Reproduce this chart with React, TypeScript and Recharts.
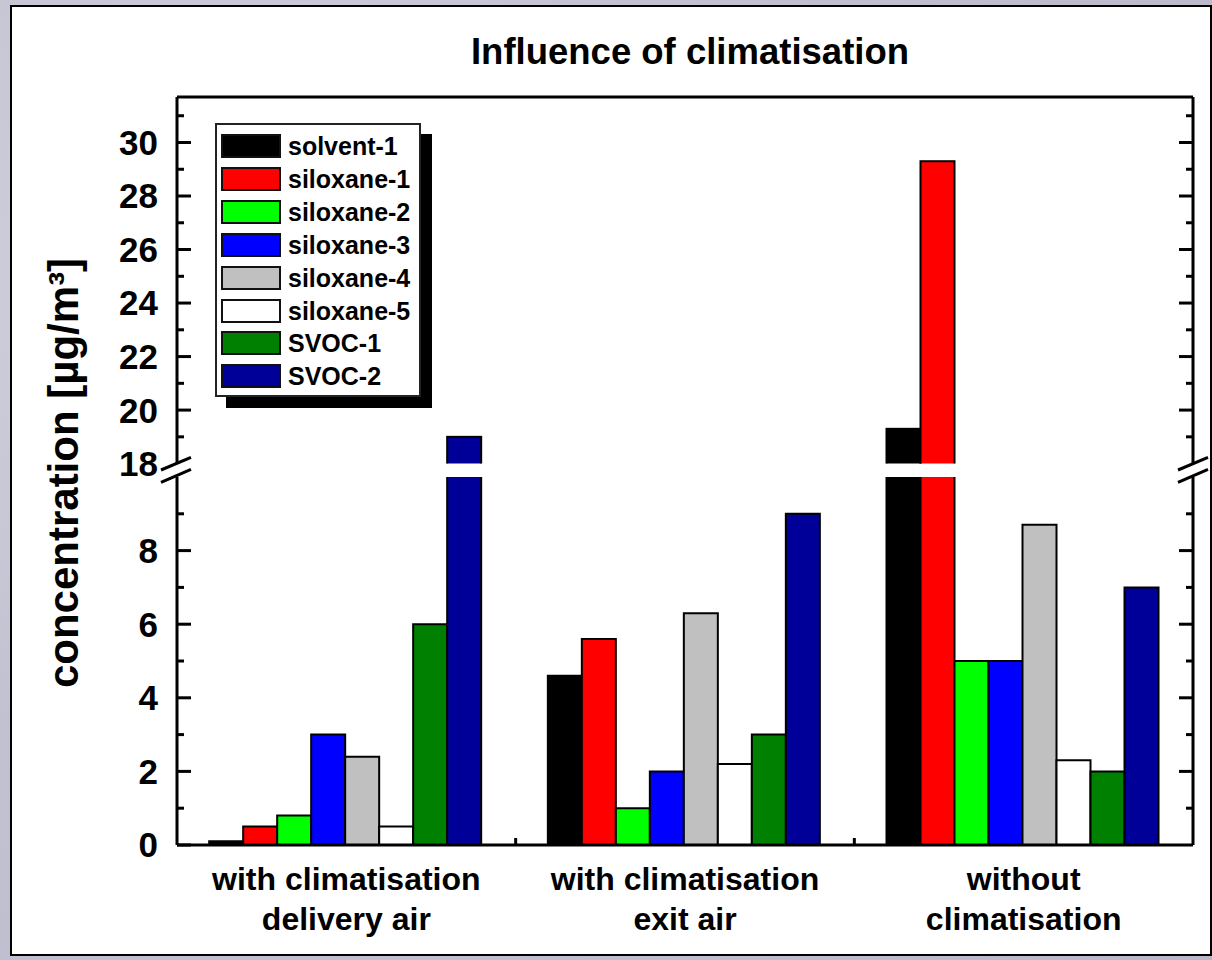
import React from 'react';
import { BarChart, Bar, XAxis, YAxis } from 'recharts';

const FONT = '"Liberation Sans", Arial, Helvetica, sans-serif';

// ---------- data ----------
const categories = [
  ['with climatisation', 'delivery air'],
  ['with climatisation', 'exit air'],
  ['without', 'climatisation'],
];
const seriesNames = ['solvent-1', 'siloxane-1', 'siloxane-2', 'siloxane-3', 'siloxane-4', 'siloxane-5', 'SVOC-1', 'SVOC-2'];
const seriesColors = ['#000000', '#ff0000', '#00ff00', '#0000ff', '#c0c0c0', '#ffffff', '#008000', '#000099'];

const solvent1 = [0.1, 4.6, 19.3];
const siloxane1 = [0.5, 5.6, 29.3];
const siloxane2 = [0.8, 1.0, 5.0];
const siloxane3 = [3.0, 2.0, 5.0];
const siloxane4 = [2.4, 6.3, 8.7];
const siloxane5 = [0.5, 2.2, 2.3];
const svoc1 = [6.0, 3.0, 2.0];
const svoc2 = [19.0, 9.0, 7.0];
const seriesValues = [solvent1, siloxane1, siloxane2, siloxane3, siloxane4, siloxane5, svoc1, svoc2];

const lowerDomain = [0, 10];
const upperDomain = [18, 31.7];
const lowerTicks = [0, 1, 2, 3, 4, 5, 6, 7, 8, 9];
const lowerTickLabels = [0, 2, 4, 6, 8];
const upperTicks = [18, 19, 20, 21, 22, 23, 24, 25, 26, 27, 28, 29, 30, 31];
const upperTickLabels = [18, 20, 22, 24, 26, 28, 30];

const title = 'Influence of climatisation';
const yLabel = 'concentration [µg/m³]';

// ---------- derived tables ----------
const keys = seriesNames.map((_, i) => `s${i}`);
const lowerData = categories.map((lines, ci) => {
  const row: any = { name: lines.join(' '), lines };
  seriesValues.forEach((vals, si) => { row[keys[si]] = vals[ci]; });
  return row;
});
const upperData = categories.map((lines, ci) => {
  const row: any = { name: lines.join(' '), lines };
  seriesValues.forEach((vals, si) => {
    const v = vals[ci];
    row[keys[si]] = v >= upperDomain[0] ? v : null;
  });
  return row;
});

// ---------- custom pieces ----------
const makeLeftTick = (labels: number[], skipLine: number[]) => (props: any) => {
  const { x, y, payload } = props;
  const v = payload.value;
  const major = labels.includes(v);
  const len = major ? 14 : 7;
  return (
    <g>
      {!skipLine.includes(v) && <line x1={x} x2={x + len} y1={y} y2={y} stroke="#000" strokeWidth={3} />}
      {major && (
        <text x={x - 19} y={y} dy="0.355em" textAnchor="end" fontFamily={FONT} fontWeight="bold" fontSize={35} fill="#000">
          {v}
        </text>
      )}
    </g>
  );
};

const makeRightTick = (labels: number[], skipLine: number[]) => (props: any) => {
  const { x, y, payload } = props;
  const v = payload.value;
  if (skipLine.includes(v)) return <g />;
  const len = labels.includes(v) ? 14 : 7;
  return <line x1={x} x2={x - len} y1={y} y2={y} stroke="#000" strokeWidth={3} />;
};

const CategoryTick = (props: any) => {
  const { x, y, payload, index, visibleTicksCount, width } = props;
  const idx = payload.index ?? index ?? 0;
  const lines = categories[idx] || String(payload.value).split(' ');
  const band = Number(width) / (Number(visibleTicksCount) || categories.length);
  const showBoundary = idx > 0 && Number.isFinite(band);
  return (
    <g>
      {showBoundary && (
        <line x1={x - band / 2} x2={x - band / 2} y1={y} y2={y - 7} stroke="#000" strokeWidth={3} />
      )}
      {lines.map((t: string, i: number) => (
        <text key={i} x={x} y={y + 45 + i * 40} textAnchor="middle" fontFamily={FONT} fontWeight="bold" fontSize={32} fill="#000">
          {t}
        </text>
      ))}
    </g>
  );
};

const makeUpperShape = (key: string) => (p: any) => {
  if (!p || !p.payload || p.payload[key] == null || !(p.height > 0)) return <g />;
  return <rect x={p.x} y={p.y} width={p.width} height={p.height + 8} fill={p.fill} stroke="#000" strokeWidth={2} />;
};

const axisLineStyle = { stroke: '#000', strokeWidth: 3 };

const Legend = () => (
  <div
    style={{
      position: 'absolute', left: 215, top: 123, width: 206, height: 274, boxSizing: 'border-box',
      border: '2px solid #222', background: '#fff', boxShadow: '11px 11px 0 0 #000',
    }}
  >
    {seriesNames.map((n, i) => (
      <div key={n} style={{ position: 'absolute', left: 4, top: 9 + i * 32.9, height: 24, display: 'flex', alignItems: 'center' }}>
        <div style={{ width: 60, height: 24, boxSizing: 'border-box', border: '2px solid #111', background: seriesColors[i] }} />
        <div style={{ marginLeft: 7, fontFamily: FONT, fontWeight: 'bold', fontSize: 25, lineHeight: '24px', color: '#000', whiteSpace: 'nowrap' }}>
          {n}
        </div>
      </div>
    ))}
  </div>
);

export default function App() {
  return (
    <div style={{ position: 'absolute', left: 0, top: 0, width: 1212, height: 960, overflow: 'hidden',
      background: 'radial-gradient(circle at 20% 30%, #d4d4e0 0%, #c2c2d2 40%, #b8b8ca 100%)' }}>
      <div style={{ position: 'absolute', left: 10, top: 5, width: 1202, height: 951, boxSizing: 'border-box',
        border: '2px solid #000', background: '#fff' }} />

      {/* lower segment 0..10 */}
      <div style={{ position: 'absolute', left: 0, top: 0 }}>
        <BarChart width={1212} height={960} data={lowerData} barGap={0} barCategoryGap="9.5%"
          margin={{ top: 477, right: 18, bottom: 114, left: 176 }}>
          {keys.map((k, i) => (
            <Bar key={k} dataKey={k} fill={seriesColors[i]} stroke="#000" strokeWidth={2} isAnimationActive={false} />
          ))}
          <XAxis dataKey="name" type="category" height={1} tickSize={0} tickMargin={0} interval={0}
            axisLine={axisLineStyle} tickLine={false} tick={<CategoryTick />} />
          <YAxis type="number" domain={lowerDomain} allowDataOverflow width={1} ticks={lowerTicks} interval={0}
            tickSize={0} tickMargin={0} tickLine={false} axisLine={axisLineStyle} tick={makeLeftTick(lowerTickLabels, [])} />
          <YAxis yAxisId="r" orientation="right" type="number" domain={lowerDomain} allowDataOverflow width={1} ticks={lowerTicks} interval={0}
            tickSize={0} tickMargin={0} tickLine={false} axisLine={axisLineStyle} tick={makeRightTick(lowerTickLabels, [0])} />
        </BarChart>
      </div>

      {/* upper segment 18..31.7 */}
      <div style={{ position: 'absolute', left: 0, top: 0 }}>
        <BarChart width={1212} height={500} data={upperData} barGap={0} barCategoryGap="9.5%"
          margin={{ top: 96, right: 18, bottom: 36.4, left: 176 }}>
          {keys.map((k, i) => (
            <Bar key={k} dataKey={k} fill={seriesColors[i]} stroke="#000" strokeWidth={2} isAnimationActive={false}
              shape={makeUpperShape(k)} />
          ))}
          <XAxis dataKey="name" type="category" orientation="top" height={1} tick={false} tickLine={false}
            axisLine={axisLineStyle} />
          <YAxis type="number" domain={upperDomain} allowDataOverflow width={1} ticks={upperTicks} interval={0}
            tickSize={0} tickMargin={0} tickLine={false} axisLine={axisLineStyle} tick={makeLeftTick(upperTickLabels, [18])} />
          <YAxis yAxisId="r" orientation="right" type="number" domain={upperDomain} allowDataOverflow width={1} ticks={upperTicks} interval={0}
            tickSize={0} tickMargin={0} tickLine={false} axisLine={axisLineStyle} tick={makeRightTick(upperTickLabels, [18])} />
        </BarChart>
      </div>

      <Legend />

      <svg width={1212} height={960} style={{ position: 'absolute', left: 0, top: 0, pointerEvents: 'none' }}>
        <text x={690} y={64} textAnchor="middle" fontFamily={FONT} fontWeight="bold" fontSize={36.5} fill="#000">{title}</text>
        <text x={78} y={473} textAnchor="middle" fontFamily={FONT} fontWeight="bold" fontSize={42} fill="#000"
          transform="rotate(-90 78 473)">{yLabel}</text>
        {[0, 1017].map((dx) => (
          <g key={dx} transform={`translate(${dx},0)`}>
            <polygon points="160,470.5 192,457.3 192,469.3 160,482.5" fill="#fff" />
            <line x1={161} y1={470} x2={191} y2={457.3} stroke="#000" strokeWidth={3} />
            <line x1={161} y1={482.3} x2={191} y2={469.3} stroke="#000" strokeWidth={3} />
          </g>
        ))}
      </svg>
    </div>
  );
}
